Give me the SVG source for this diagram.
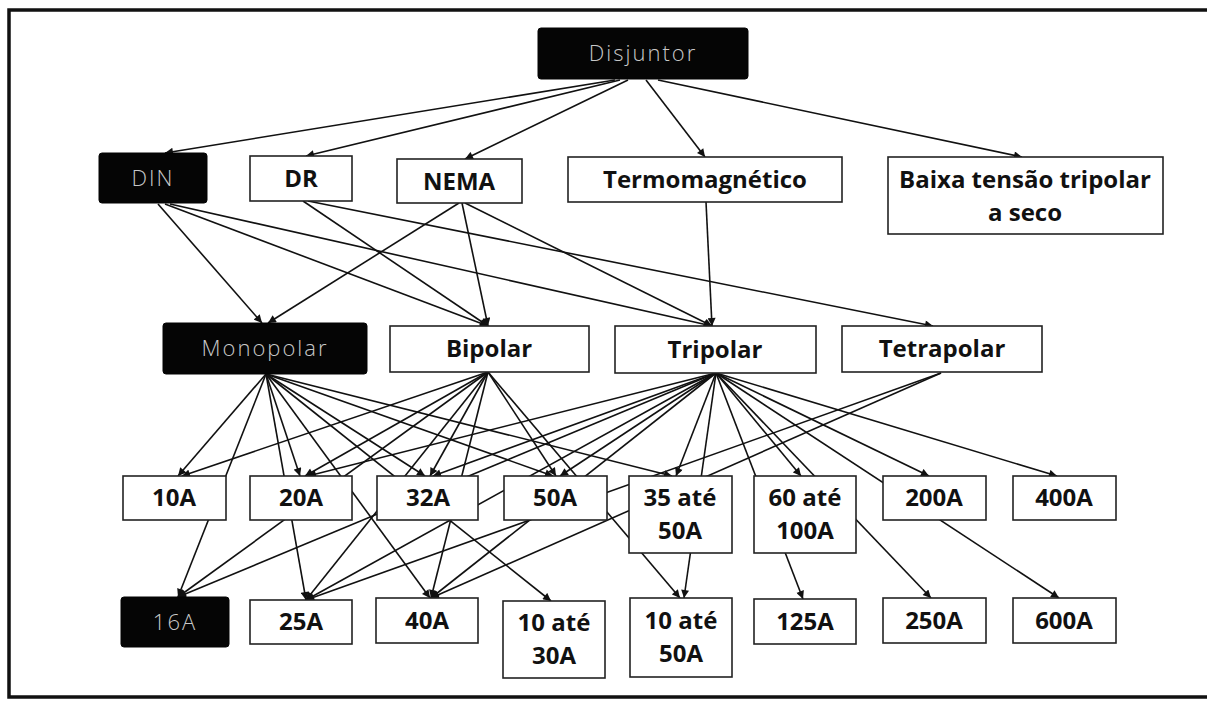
<svg xmlns="http://www.w3.org/2000/svg" width="1207" height="701" viewBox="0 0 1207 701">
<defs>
<marker id="ah" viewBox="0 0 10 10" refX="10" refY="5" markerWidth="9" markerHeight="8" markerUnits="userSpaceOnUse" orient="auto"><path d="M0,0 L10,5 L0,10 z" fill="#111"/></marker>
<style>
.box{fill:#fff;stroke:#222;stroke-width:1.6}
.dk{fill:#050505;stroke:#050505;stroke-width:1}
.t{font-family:"Open Sans","Liberation Sans",sans-serif;font-weight:700;font-size:24px;fill:#111;text-anchor:middle}
.tl{font-family:"Open Sans","Liberation Sans",sans-serif;font-weight:300;font-size:22px;fill:#c8c8c8;text-anchor:middle;letter-spacing:2px}
#edges line{stroke:#111;stroke-width:1.6;marker-end:url(#ah)}
</style>
</defs>
<rect width="1207" height="701" fill="#fff"/>
<path d="M1207,10 L9,10 L9,697 L1207,697" fill="none" stroke="#111" stroke-width="3.5"/>
<g id="edges">
<line x1="615" y1="80" x2="165" y2="153"/>
<line x1="620" y1="80" x2="306" y2="156"/>
<line x1="628" y1="80" x2="465" y2="159"/>
<line x1="646" y1="80" x2="705" y2="157"/>
<line x1="658" y1="80" x2="1022" y2="157"/>
<line x1="158" y1="204" x2="262" y2="323"/>
<line x1="165" y1="204" x2="488" y2="326"/>
<line x1="170" y1="204" x2="712" y2="326"/>
<line x1="303" y1="201" x2="488" y2="326"/>
<line x1="308" y1="201" x2="933" y2="326"/>
<line x1="459" y1="203" x2="268" y2="323"/>
<line x1="462" y1="203" x2="488" y2="326"/>
<line x1="465" y1="203" x2="712" y2="326"/>
<line x1="706" y1="202" x2="712" y2="326"/>
<line x1="266" y1="374" x2="178" y2="476"/>
<line x1="266" y1="374" x2="178" y2="597"/>
<line x1="266" y1="374" x2="300" y2="476"/>
<line x1="266" y1="374" x2="306" y2="600"/>
<line x1="266" y1="374" x2="425" y2="476"/>
<line x1="266" y1="374" x2="430" y2="598"/>
<line x1="266" y1="374" x2="553" y2="476"/>
<line x1="266" y1="374" x2="672" y2="476"/>
<line x1="266" y1="374" x2="551" y2="601"/>
<line x1="488" y1="372" x2="182" y2="476"/>
<line x1="488" y1="372" x2="178" y2="597"/>
<line x1="488" y1="372" x2="305" y2="476"/>
<line x1="488" y1="372" x2="306" y2="600"/>
<line x1="488" y1="372" x2="430" y2="476"/>
<line x1="488" y1="372" x2="431" y2="598"/>
<line x1="488" y1="372" x2="556" y2="476"/>
<line x1="488" y1="372" x2="680" y2="598"/>
<line x1="716" y1="373" x2="178" y2="597"/>
<line x1="716" y1="373" x2="308" y2="476"/>
<line x1="716" y1="373" x2="306" y2="600"/>
<line x1="716" y1="373" x2="433" y2="476"/>
<line x1="716" y1="373" x2="431" y2="598"/>
<line x1="716" y1="373" x2="560" y2="476"/>
<line x1="716" y1="373" x2="676" y2="476"/>
<line x1="716" y1="373" x2="684" y2="598"/>
<line x1="716" y1="373" x2="803" y2="599"/>
<line x1="716" y1="373" x2="801" y2="476"/>
<line x1="716" y1="373" x2="931" y2="598"/>
<line x1="716" y1="373" x2="1059" y2="598"/>
<line x1="716" y1="373" x2="929" y2="476"/>
<line x1="716" y1="373" x2="1057" y2="476"/>
<line x1="941" y1="373" x2="306" y2="600"/>
<line x1="941" y1="373" x2="431" y2="598"/>
</g>
<g id="n-disjuntor"><rect class="dk" x="538" y="28" width="210" height="51" rx="3"/><text class="tl" x="643" y="61">Disjuntor</text></g>
<g id="n-din"><rect class="dk" x="99" y="153" width="108" height="50" rx="3"/><text class="tl" x="153" y="186">DIN</text></g>
<g id="n-dr"><rect class="box" x="250" y="156" width="102" height="45"/><text class="t" x="301" y="187">DR</text></g>
<g id="n-nema"><rect class="box" x="397" y="159" width="125" height="44"/><text class="t" x="459" y="190">NEMA</text></g>
<g id="n-termo"><rect class="box" x="568" y="157" width="274" height="45"/><text class="t" x="705" y="188">Termomagnético</text></g>
<g id="n-baixa"><rect class="box" x="888" y="157" width="275" height="77"/><text class="t" x="1025" y="188">Baixa tensão tripolar</text><text class="t" x="1025" y="221">a seco</text></g>
<g id="n-monopolar"><rect class="dk" x="163" y="323" width="204" height="51" rx="3"/><text class="tl" x="265" y="356">Monopolar</text></g>
<g id="n-bipolar"><rect class="box" x="390" y="326" width="199" height="46"/><text class="t" x="489" y="357">Bipolar</text></g>
<g id="n-tripolar"><rect class="box" x="615" y="326" width="201" height="47"/><text class="t" x="715" y="358">Tripolar</text></g>
<g id="n-tetrapolar"><rect class="box" x="842" y="326" width="200" height="46"/><text class="t" x="942" y="357">Tetrapolar</text></g>
<g id="n-10a"><rect class="box" x="123" y="476" width="103" height="44"/><text class="t" x="174" y="506">10A</text></g>
<g id="n-20a"><rect class="box" x="250" y="476" width="102" height="44"/><text class="t" x="301" y="506">20A</text></g>
<g id="n-32a"><rect class="box" x="377" y="476" width="101" height="44"/><text class="t" x="428" y="506">32A</text></g>
<g id="n-50a"><rect class="box" x="504" y="476" width="103" height="44"/><text class="t" x="555" y="506">50A</text></g>
<g id="n-35a50"><rect class="box" x="629" y="476" width="103" height="77"/><text class="t" x="680" y="506">35 até</text><text class="t" x="680" y="539">50A</text></g>
<g id="n-60a100"><rect class="box" x="754" y="476" width="102" height="77"/><text class="t" x="805" y="506">60 até</text><text class="t" x="805" y="539">100A</text></g>
<g id="n-200a"><rect class="box" x="883" y="476" width="103" height="44"/><text class="t" x="934" y="506">200A</text></g>
<g id="n-400a"><rect class="box" x="1013" y="476" width="103" height="44"/><text class="t" x="1064" y="506">400A</text></g>
<g id="n-16a"><rect class="dk" x="121" y="597" width="108" height="50" rx="3"/><text class="tl" x="175" y="630">16A</text></g>
<g id="n-25a"><rect class="box" x="250" y="600" width="102" height="44"/><text class="t" x="301" y="630">25A</text></g>
<g id="n-40a"><rect class="box" x="376" y="598" width="102" height="45"/><text class="t" x="427" y="629">40A</text></g>
<g id="n-10a30"><rect class="box" x="503" y="601" width="102" height="77"/><text class="t" x="554" y="631">10 até</text><text class="t" x="554" y="664">30A</text></g>
<g id="n-10a50"><rect class="box" x="630" y="598" width="102" height="79"/><text class="t" x="681" y="629">10 até</text><text class="t" x="681" y="662">50A</text></g>
<g id="n-125a"><rect class="box" x="754" y="599" width="102" height="45"/><text class="t" x="805" y="630">125A</text></g>
<g id="n-250a"><rect class="box" x="883" y="598" width="103" height="45"/><text class="t" x="934" y="629">250A</text></g>
<g id="n-600a"><rect class="box" x="1013" y="598" width="103" height="45"/><text class="t" x="1064" y="629">600A</text></g>
</svg>
